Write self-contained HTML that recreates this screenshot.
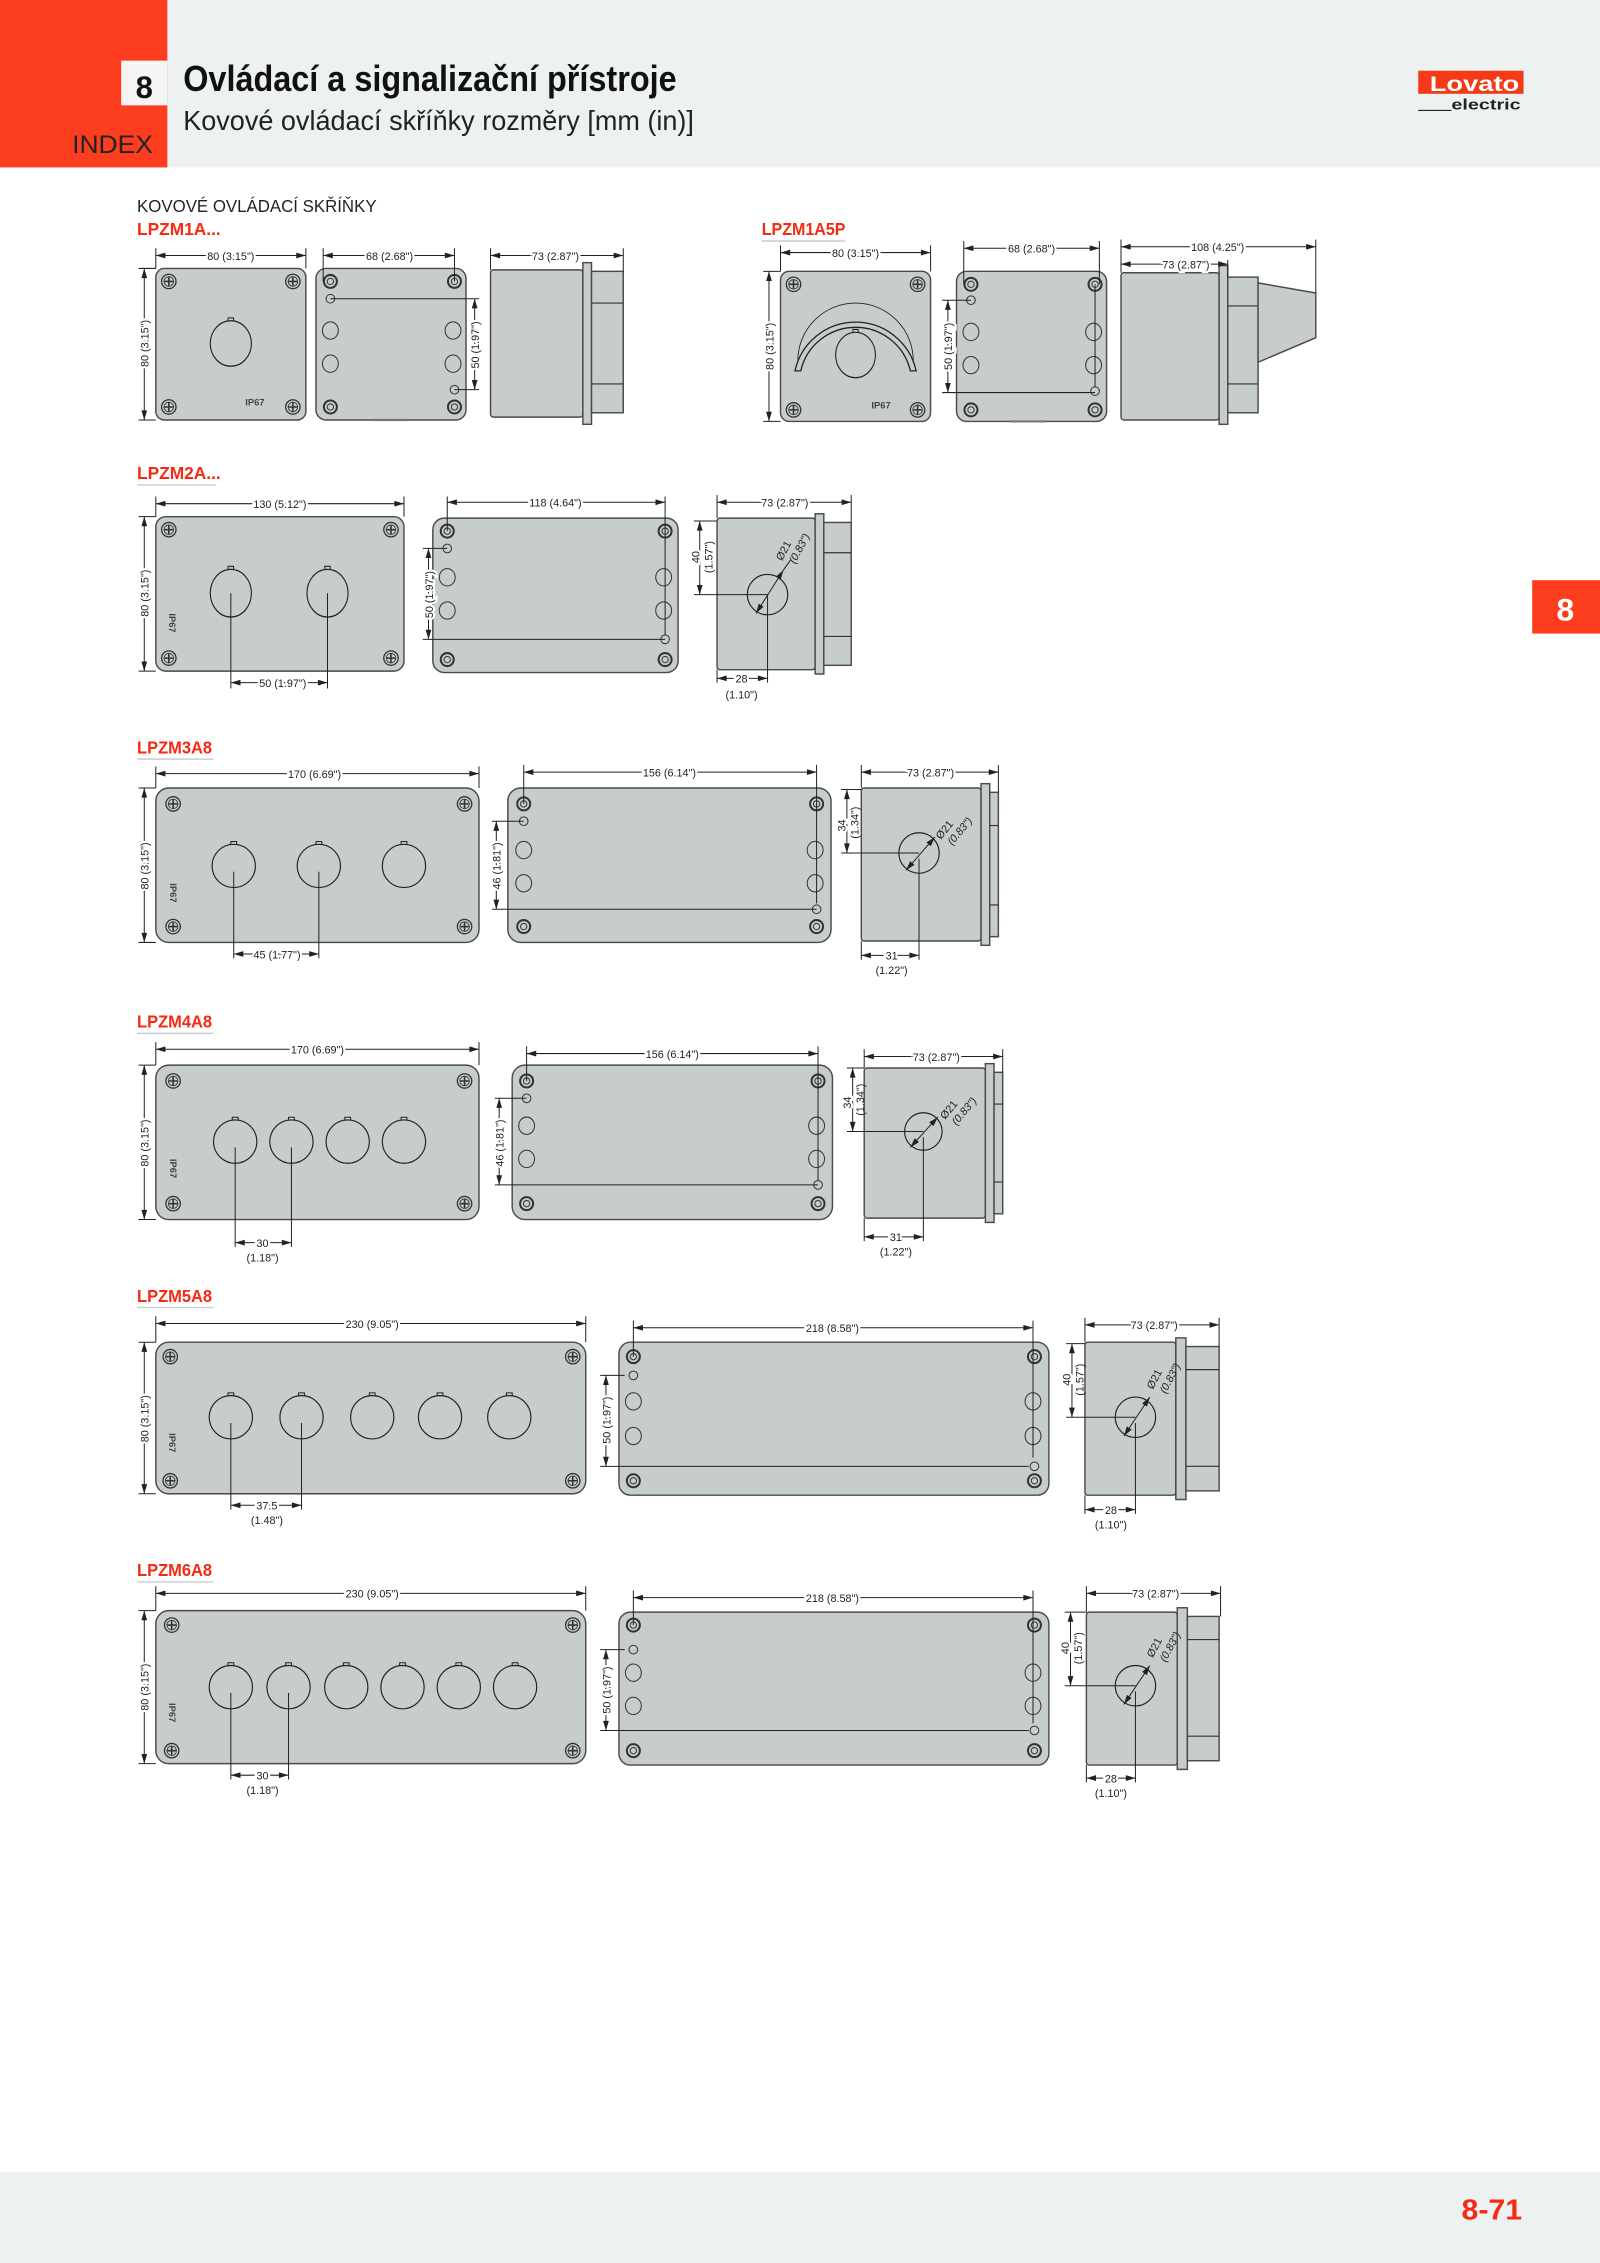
<!DOCTYPE html>
<html><head><meta charset="utf-8">
<style>
html,body{margin:0;padding:0;background:#fff;}
svg{display:block;}
.b{fill:#c6cdcb;stroke:#4a4a4a;stroke-width:1;}
.l{fill:none;stroke:#222;stroke-width:.7;}
.k{fill:none;stroke:#333;stroke-width:.8;}
.d{font-family:"Liberation Sans",sans-serif;font-size:7.5px;fill:#222;paint-order:stroke;stroke:#fff;stroke-width:3px;}
.dn{font-family:"Liberation Sans",sans-serif;font-size:7.5px;fill:#222;}
.red{font-family:"Liberation Sans",sans-serif;font-weight:bold;font-size:12px;fill:#f52a12;}
.ip{font-family:"Liberation Sans",sans-serif;font-weight:bold;font-size:6.5px;fill:#444;}
</style></head><body>
<svg width="1600" height="2263" viewBox="0 0 1109 1568" preserveAspectRatio="none" xmlns="http://www.w3.org/2000/svg">
<defs>
<marker id="a" viewBox="0 0 10 6" refX="10" refY="3" markerWidth="7" markerHeight="4" orient="auto-start-reverse" markerUnits="userSpaceOnUse"><path d="M0,0L10,3L0,6z" fill="#222"/></marker>
<g id="sc"><circle r="5" fill="#c6cdcb" stroke="#333" stroke-width=".9"/><circle r="3.3" fill="none" stroke="#333" stroke-width=".6"/><path d="M-3,0H3M0,-3V3" stroke="#333" stroke-width="1.1"/></g>
<g id="rg"><circle r="4.5" fill="none" stroke="#333" stroke-width="1.4"/><circle r="2.2" fill="none" stroke="#333" stroke-width=".7"/></g>
<g id="h"><circle r="15" fill="none" stroke="#222" stroke-width=".8"/><path d="M-2,-14.9v-2h4v2" fill="none" stroke="#222" stroke-width=".7"/></g>
<g id="sm"><circle r="3" fill="none" stroke="#333" stroke-width=".7"/></g>
<g id="hh"><ellipse rx="5.5" ry="6" fill="none" stroke="#333" stroke-width=".7"/></g>
</defs>

<!-- header -->
<rect x="0" y="0" width="1109" height="116" fill="#eef1f1"/>
<rect x="0" y="0" width="116" height="116" fill="#fc3d1e"/>
<rect x="84" y="42" width="32" height="31" fill="#f4f5f5"/>
<text x="100" y="68" text-anchor="middle" font-family="Liberation Sans,sans-serif" font-weight="bold" font-size="22" fill="#111" textLength="12" lengthAdjust="spacingAndGlyphs">8</text>
<text x="50" y="106" font-family="Liberation Sans,sans-serif" font-size="17" fill="#222" textLength="56" lengthAdjust="spacingAndGlyphs">INDEX</text>
<text x="127" y="63" font-family="Liberation Sans,sans-serif" font-weight="bold" font-size="25" fill="#111" textLength="342" lengthAdjust="spacingAndGlyphs">Ovládací a signalizační přístroje</text>
<text x="127" y="90" font-family="Liberation Sans,sans-serif" font-size="19" fill="#222" textLength="354" lengthAdjust="spacingAndGlyphs">Kovové ovládací skříňky rozměry [mm (in)]</text>
<rect x="983" y="49" width="73" height="16" fill="#f33b17"/>
<text x="991" y="63" font-family="Liberation Sans,sans-serif" font-weight="bold" font-size="15" fill="#fff" textLength="62" lengthAdjust="spacingAndGlyphs">Lovato</text>
<text x="1006" y="76" font-family="Liberation Sans,sans-serif" font-weight="bold" font-size="10" fill="#222" textLength="48" lengthAdjust="spacingAndGlyphs">electric</text>
<line x1="983" y1="76.5" x2="1006" y2="76.5" stroke="#222" stroke-width=".8"/>

<!-- right tab -->
<rect x="1062" y="402" width="47" height="37" fill="#fc3d1e"/>
<text x="1085" y="430" text-anchor="middle" font-family="Liberation Sans,sans-serif" font-weight="bold" font-size="22" fill="#fff">8</text>

<!-- footer -->
<rect x="0" y="1505" width="1109" height="63" fill="#eef1f1"/>
<text x="1013" y="1538" font-family="Liberation Sans,sans-serif" font-weight="bold" font-size="20" fill="#f52a12" textLength="42" lengthAdjust="spacingAndGlyphs">8-71</text>

<!-- titles -->
<text x="95" y="147" font-family="Liberation Sans,sans-serif" font-size="12" fill="#222" textLength="166" lengthAdjust="spacingAndGlyphs">KOVOVÉ OVLÁDACÍ SKŘÍŇKY</text>
<text x="95" y="163" class="red" textLength="58" lengthAdjust="spacingAndGlyphs">LPZM1A...</text>
<text x="528" y="163" class="red" textLength="58" lengthAdjust="spacingAndGlyphs">LPZM1A5P</text>
<line x1="528" y1="167" x2="586" y2="167" stroke="#ccc"/>
<text x="95" y="332" class="red" textLength="58" lengthAdjust="spacingAndGlyphs">LPZM2A...</text>
<line x1="95" y1="336" x2="150" y2="336" stroke="#ccc"/>
<text x="95" y="522" class="red" textLength="52" lengthAdjust="spacingAndGlyphs">LPZM3A8</text>
<line x1="95" y1="526" x2="148" y2="526" stroke="#ccc"/>
<text x="95" y="712" class="red" textLength="52" lengthAdjust="spacingAndGlyphs">LPZM4A8</text>
<line x1="95" y1="716" x2="148" y2="716" stroke="#ccc"/>
<text x="95" y="902" class="red" textLength="52" lengthAdjust="spacingAndGlyphs">LPZM5A8</text>
<line x1="95" y1="906" x2="148" y2="906" stroke="#ccc"/>
<text x="95" y="1092" class="red" textLength="52" lengthAdjust="spacingAndGlyphs">LPZM6A8</text>
<line x1="95" y1="1096" x2="148" y2="1096" stroke="#ccc"/>

<!-- ========== ROW 1 LPZM1A ========== -->
<rect class="b" x="108" y="186" width="104" height="105" rx="6"/>
<use href="#sc" x="117" y="195"/><use href="#sc" x="203" y="195"/><use href="#sc" x="117" y="282"/><use href="#sc" x="203" y="282"/>
<g transform="translate(160,238) scale(.95,1.05)"><use href="#h"/></g>
<text class="ip" x="170" y="281">IP67</text>
<line class="l" x1="108" y1="177" x2="212" y2="177" marker-start="url(#a)" marker-end="url(#a)"/>
<line class="l" x1="108" y1="172" x2="108" y2="186"/><line class="l" x1="212" y1="172" x2="212" y2="186"/>
<text class="d" x="160" y="180" text-anchor="middle">80 (3.15")</text>
<line class="l" x1="100" y1="186" x2="100" y2="291" marker-start="url(#a)" marker-end="url(#a)"/>
<line class="l" x1="96" y1="186" x2="108" y2="186"/><line class="l" x1="96" y1="291" x2="108" y2="291"/>
<text class="d" transform="translate(103,238) rotate(-90)" text-anchor="middle">80 (3.15")</text>

<rect class="b" x="219" y="186" width="104" height="105" rx="7"/>
<use href="#rg" x="229" y="195"/><use href="#rg" x="315" y="195"/><use href="#rg" x="229" y="282"/><use href="#rg" x="315" y="282"/>
<use href="#sm" x="229" y="207"/><use href="#sm" x="315" y="270"/>
<use href="#hh" x="229" y="229"/><use href="#hh" x="229" y="252"/><use href="#hh" x="314" y="229"/><use href="#hh" x="314" y="252"/>
<line class="l" x1="229" y1="207" x2="332" y2="207"/><line class="l" x1="315" y1="270" x2="332" y2="270"/>
<line class="l" x1="329" y1="207" x2="329" y2="270" marker-start="url(#a)" marker-end="url(#a)"/>
<text class="d" transform="translate(332,239) rotate(-90)" text-anchor="middle">50 (1.97")</text>
<line x1="258" y1="291" x2="282" y2="291" stroke="#777" stroke-width="1.5"/>
<line class="l" x1="224" y1="177" x2="315" y2="177" marker-start="url(#a)" marker-end="url(#a)"/>
<line class="l" x1="224" y1="172" x2="224" y2="195"/><line class="l" x1="315" y1="172" x2="315" y2="195"/>
<text class="d" x="270" y="180" text-anchor="middle">68 (2.68")</text>

<rect class="b" x="340" y="187" width="64" height="102" rx="2"/>
<rect class="b" x="404" y="182" width="6" height="112"/>
<rect class="b" x="410" y="188" width="22" height="98"/>
<line class="k" x1="410" y1="210" x2="432" y2="210"/><line class="k" x1="410" y1="266" x2="432" y2="266"/>
<line class="l" x1="340" y1="177" x2="432" y2="177" marker-start="url(#a)" marker-end="url(#a)"/>
<line class="l" x1="340" y1="172" x2="340" y2="187"/><line class="l" x1="432" y1="172" x2="432" y2="188"/>
<text class="d" x="385" y="180" text-anchor="middle">73 (2.87")</text>

<!-- LPZM1A5P -->
<rect class="b" x="541" y="188" width="104" height="104" rx="6"/>
<use href="#sc" x="550" y="197"/><use href="#sc" x="636" y="197"/><use href="#sc" x="550" y="284"/><use href="#sc" x="636" y="284"/>
<path d="M551,257 A43,43 0 0 1 635,257 L631,257 A39,39 0 0 0 555,257 Z" fill="#c6cdcb" stroke="#222" stroke-width=".9"/>
<path d="M553,250 A40,40 0 0 1 633,250" fill="none" stroke="#222" stroke-width=".6"/>
<g transform="translate(593,246) scale(.92,1.05)"><use href="#h"/></g>
<text class="ip" x="604" y="283">IP67</text>
<line class="l" x1="541" y1="175" x2="645" y2="175" marker-start="url(#a)" marker-end="url(#a)"/>
<line class="l" x1="541" y1="170" x2="541" y2="188"/><line class="l" x1="645" y1="170" x2="645" y2="188"/>
<text class="d" x="593" y="178" text-anchor="middle">80 (3.15")</text>
<line class="l" x1="533" y1="188" x2="533" y2="292" marker-start="url(#a)" marker-end="url(#a)"/>
<line class="l" x1="529" y1="188" x2="541" y2="188"/><line class="l" x1="529" y1="292" x2="541" y2="292"/>
<text class="d" transform="translate(536,240) rotate(-90)" text-anchor="middle">80 (3.15")</text>

<rect class="b" x="663" y="188" width="104" height="104" rx="7"/>
<use href="#rg" x="673" y="197"/><use href="#rg" x="759" y="197"/><use href="#rg" x="673" y="284"/><use href="#rg" x="759" y="284"/>
<use href="#sm" x="673" y="208"/><use href="#sm" x="759" y="271"/>
<use href="#hh" x="673" y="230"/><use href="#hh" x="673" y="253"/><use href="#hh" x="758" y="230"/><use href="#hh" x="758" y="253"/>
<line class="l" x1="653" y1="208" x2="673" y2="208"/><line class="l" x1="653" y1="272" x2="759" y2="272"/>
<line class="l" x1="657" y1="208" x2="657" y2="272" marker-start="url(#a)" marker-end="url(#a)"/>
<text class="d" transform="translate(660,240) rotate(-90)" text-anchor="middle">50 (1.97")</text>
<line class="l" x1="759" y1="197" x2="759" y2="268"/>
<line x1="700" y1="292" x2="725" y2="292" stroke="#777" stroke-width="1.5"/>
<line class="l" x1="668" y1="172" x2="762" y2="172" marker-start="url(#a)" marker-end="url(#a)"/>
<line class="l" x1="668" y1="167" x2="668" y2="197"/><line class="l" x1="762" y1="167" x2="762" y2="197"/>
<text class="d" x="715" y="175" text-anchor="middle">68 (2.68")</text>

<rect class="b" x="777" y="189" width="68" height="102" rx="2"/>
<rect class="b" x="845" y="184" width="6" height="110"/>
<rect class="b" x="851" y="192" width="21" height="94"/>
<line class="k" x1="851" y1="212" x2="872" y2="212"/><line class="k" x1="851" y1="266" x2="872" y2="266"/>
<polygon class="b" points="872,196 912,203 912,234 872,251"/>
<line class="l" x1="777" y1="171" x2="912" y2="171" marker-start="url(#a)" marker-end="url(#a)"/>
<line class="l" x1="777" y1="166" x2="777" y2="189"/><line class="l" x1="912" y1="166" x2="912" y2="203"/>
<text class="d" x="844" y="174" text-anchor="middle">108 (4.25")</text>
<line class="l" x1="777" y1="183" x2="851" y2="183" marker-start="url(#a)" marker-end="url(#a)"/>
<line class="l" x1="851" y1="180" x2="851" y2="192"/>
<text class="d" x="822" y="186" text-anchor="middle">73 (2.87")</text>

<!-- ========== ROW 2 LPZM2A ========== -->
<rect class="b" x="108" y="358" width="172" height="107" rx="7"/>
<use href="#sc" x="117" y="367"/><use href="#sc" x="271" y="367"/><use href="#sc" x="117" y="456"/><use href="#sc" x="271" y="456"/>
<g transform="translate(160,411) scale(.95,1.1)"><use href="#h"/></g>
<g transform="translate(227,411) scale(.95,1.1)"><use href="#h"/></g>
<text class="ip" transform="translate(117,425) rotate(90)">IP67</text>
<line class="l" x1="108" y1="349" x2="280" y2="349" marker-start="url(#a)" marker-end="url(#a)"/>
<line class="l" x1="108" y1="344" x2="108" y2="358"/><line class="l" x1="280" y1="344" x2="280" y2="358"/>
<text class="d" x="194" y="352" text-anchor="middle">130 (5.12")</text>
<line class="l" x1="100" y1="358" x2="100" y2="465" marker-start="url(#a)" marker-end="url(#a)"/>
<line class="l" x1="96" y1="358" x2="108" y2="358"/><line class="l" x1="96" y1="465" x2="108" y2="465"/>
<text class="d" transform="translate(103,411) rotate(-90)" text-anchor="middle">80 (3.15")</text>
<line class="l" x1="160" y1="411" x2="160" y2="477"/><line class="l" x1="227" y1="411" x2="227" y2="477"/>
<line class="l" x1="160" y1="473" x2="227" y2="473" marker-start="url(#a)" marker-end="url(#a)"/>
<text class="d" x="196" y="476" text-anchor="middle">50 (1.97")</text>

<rect class="b" x="300" y="359" width="170" height="107" rx="8"/>
<use href="#rg" x="310" y="368"/><use href="#rg" x="461" y="368"/><use href="#rg" x="310" y="457"/><use href="#rg" x="461" y="457"/>
<use href="#sm" x="310" y="380"/><use href="#sm" x="461" y="443"/>
<use href="#hh" x="310" y="400"/><use href="#hh" x="310" y="423"/><use href="#hh" x="460" y="400"/><use href="#hh" x="460" y="423"/>
<line class="l" x1="293" y1="380" x2="310" y2="380"/><line class="l" x1="293" y1="443" x2="461" y2="443"/>
<line class="l" x1="297" y1="380" x2="297" y2="443" marker-start="url(#a)" marker-end="url(#a)"/>
<text class="d" transform="translate(300,412) rotate(-90)" text-anchor="middle">50 (1.97")</text>
<line class="l" x1="461" y1="344" x2="461" y2="440"/><line class="l" x1="310" y1="344" x2="310" y2="368"/>
<line class="l" x1="310" y1="348" x2="461" y2="348" marker-start="url(#a)" marker-end="url(#a)"/>
<text class="d" x="385" y="351" text-anchor="middle">118 (4.64")</text>

<rect class="b" x="497" y="359" width="68" height="105" rx="2"/>
<rect class="b" x="565" y="356" width="6" height="111"/>
<rect class="b" x="571" y="362" width="19" height="99"/>
<line class="k" x1="571" y1="383" x2="590" y2="383"/><line class="k" x1="571" y1="441" x2="590" y2="441"/>
<circle cx="532" cy="412" r="14" fill="none" stroke="#222" stroke-width=".8"/>
<line class="l" x1="524" y1="425" x2="543" y2="395" marker-start="url(#a)" marker-end="url(#a)"/>
<line class="l" x1="543" y1="395" x2="548" y2="388"/>
<text class="dn" transform="translate(542,389) rotate(-62)">Ø21</text>
<text class="dn" transform="translate(551,391) rotate(-62)" font-style="italic">(0.83")</text>
<line class="l" x1="481" y1="361" x2="497" y2="361"/><line class="l" x1="481" y1="412" x2="532" y2="412"/>
<line class="l" x1="485" y1="361" x2="485" y2="412" marker-start="url(#a)" marker-end="url(#a)"/>
<text class="d" transform="translate(485,386) rotate(-90)" text-anchor="middle">40</text>
<text class="dn" transform="translate(494,386) rotate(-90)" text-anchor="middle">(1.57")</text>
<line class="l" x1="497" y1="348" x2="590" y2="348" marker-start="url(#a)" marker-end="url(#a)"/>
<line class="l" x1="497" y1="343" x2="497" y2="359"/><line class="l" x1="590" y1="343" x2="590" y2="362"/>
<text class="d" x="544" y="351" text-anchor="middle">73 (2.87")</text>
<line class="l" x1="532" y1="412" x2="532" y2="473"/><line class="l" x1="497" y1="464" x2="497" y2="473"/>
<line class="l" x1="497" y1="470" x2="532" y2="470" marker-start="url(#a)" marker-end="url(#a)"/>
<text class="d" x="514" y="473" text-anchor="middle">28</text>
<text class="dn" x="514" y="484" text-anchor="middle">(1.10")</text>

<!-- ========== ROW 3 LPZM3A8 ========== -->
<rect class="b" x="108" y="546" width="224" height="107" rx="9"/>
<use href="#sc" x="120" y="557"/><use href="#sc" x="322" y="557"/><use href="#sc" x="120" y="642"/><use href="#sc" x="322" y="642"/>
<use href="#h" x="162" y="600"/><use href="#h" x="221" y="600"/><use href="#h" x="280" y="600"/>
<text class="ip" transform="translate(118,612) rotate(90)">IP67</text>
<line class="l" x1="108" y1="536" x2="332" y2="536" marker-start="url(#a)" marker-end="url(#a)"/>
<line class="l" x1="108" y1="531" x2="108" y2="546"/><line class="l" x1="332" y1="531" x2="332" y2="546"/>
<text class="d" x="218" y="539" text-anchor="middle">170 (6.69")</text>
<line class="l" x1="100" y1="546" x2="100" y2="653" marker-start="url(#a)" marker-end="url(#a)"/>
<line class="l" x1="96" y1="546" x2="108" y2="546"/><line class="l" x1="96" y1="653" x2="108" y2="653"/>
<text class="d" transform="translate(103,600) rotate(-90)" text-anchor="middle">80 (3.15")</text>
<line class="l" x1="162" y1="604" x2="162" y2="664"/><line class="l" x1="221" y1="604" x2="221" y2="664"/>
<line class="l" x1="162" y1="661" x2="221" y2="661" marker-start="url(#a)" marker-end="url(#a)"/>
<text class="d" x="192" y="664" text-anchor="middle">45 (1.77")</text>

<rect class="b" x="352" y="546" width="224" height="107" rx="9"/>
<use href="#rg" x="363" y="557"/><use href="#rg" x="566" y="557"/><use href="#rg" x="363" y="642"/><use href="#rg" x="566" y="642"/>
<use href="#sm" x="363" y="569"/><use href="#sm" x="566" y="630"/>
<use href="#hh" x="363" y="589"/><use href="#hh" x="363" y="612"/><use href="#hh" x="565" y="589"/><use href="#hh" x="565" y="612"/>
<line class="l" x1="341" y1="569" x2="363" y2="569"/><line class="l" x1="341" y1="630" x2="566" y2="630"/>
<line class="l" x1="344" y1="569" x2="344" y2="630" marker-start="url(#a)" marker-end="url(#a)"/>
<text class="d" transform="translate(347,600) rotate(-90)" text-anchor="middle">46 (1.81")</text>
<line class="l" x1="363" y1="530" x2="363" y2="557"/><line class="l" x1="566" y1="530" x2="566" y2="626"/>
<line class="l" x1="363" y1="535" x2="566" y2="535" marker-start="url(#a)" marker-end="url(#a)"/>
<text class="d" x="464" y="538" text-anchor="middle">156 (6.14")</text>

<rect class="b" x="597" y="546" width="83" height="106" rx="2"/>
<rect class="b" x="680" y="543" width="6" height="112"/>
<rect class="b" x="686" y="549" width="6" height="100"/>
<line class="k" x1="686" y1="572" x2="692" y2="572"/><line class="k" x1="686" y1="627" x2="692" y2="627"/>
<circle cx="637" cy="591" r="14" fill="none" stroke="#222" stroke-width=".8"/>
<line class="l" x1="628" y1="603" x2="648" y2="580" marker-start="url(#a)" marker-end="url(#a)"/>
<text class="dn" transform="translate(652,582) rotate(-50)">Ø21</text>
<text class="dn" transform="translate(660,586) rotate(-50)" font-style="italic">(0.83")</text>
<line class="l" x1="583" y1="547" x2="597" y2="547"/><line class="l" x1="583" y1="591" x2="637" y2="591"/>
<line class="l" x1="587" y1="547" x2="587" y2="591" marker-start="url(#a)" marker-end="url(#a)"/>
<text class="d" transform="translate(586,572) rotate(-90)" text-anchor="middle">34</text>
<text class="dn" transform="translate(595,570) rotate(-90)" text-anchor="middle">(1.34")</text>
<line class="l" x1="597" y1="535" x2="692" y2="535" marker-start="url(#a)" marker-end="url(#a)"/>
<line class="l" x1="597" y1="530" x2="597" y2="546"/><line class="l" x1="692" y1="530" x2="692" y2="549"/>
<text class="d" x="645" y="538" text-anchor="middle">73 (2.87")</text>
<line class="l" x1="637" y1="595" x2="637" y2="665"/><line class="l" x1="597" y1="652" x2="597" y2="665"/>
<line class="l" x1="597" y1="662" x2="637" y2="662" marker-start="url(#a)" marker-end="url(#a)"/>
<text class="d" x="618" y="665" text-anchor="middle">31</text>
<text class="dn" x="618" y="675" text-anchor="middle">(1.22")</text>

<!-- ========== ROW 4 LPZM4A8 ========== -->
<rect class="b" x="108" y="738" width="224" height="107" rx="9"/>
<use href="#sc" x="120" y="749"/><use href="#sc" x="322" y="749"/><use href="#sc" x="120" y="834"/><use href="#sc" x="322" y="834"/>
<use href="#h" x="163" y="791"/><use href="#h" x="202" y="791"/><use href="#h" x="241" y="791"/><use href="#h" x="280" y="791"/>
<text class="ip" transform="translate(118,803) rotate(90)">IP67</text>
<line class="l" x1="108" y1="727" x2="332" y2="727" marker-start="url(#a)" marker-end="url(#a)"/>
<line class="l" x1="108" y1="722" x2="108" y2="738"/><line class="l" x1="332" y1="722" x2="332" y2="738"/>
<text class="d" x="220" y="730" text-anchor="middle">170 (6.69")</text>
<line class="l" x1="100" y1="738" x2="100" y2="845" marker-start="url(#a)" marker-end="url(#a)"/>
<line class="l" x1="96" y1="738" x2="108" y2="738"/><line class="l" x1="96" y1="845" x2="108" y2="845"/>
<text class="d" transform="translate(103,792) rotate(-90)" text-anchor="middle">80 (3.15")</text>
<line class="l" x1="163" y1="795" x2="163" y2="864"/><line class="l" x1="202" y1="795" x2="202" y2="864"/>
<line class="l" x1="163" y1="861" x2="202" y2="861" marker-start="url(#a)" marker-end="url(#a)"/>
<text class="d" x="182" y="864" text-anchor="middle">30</text>
<text class="dn" x="182" y="874" text-anchor="middle">(1.18")</text>

<rect class="b" x="355" y="738" width="222" height="107" rx="9"/>
<use href="#rg" x="365" y="749"/><use href="#rg" x="567" y="749"/><use href="#rg" x="365" y="834"/><use href="#rg" x="567" y="834"/>
<use href="#sm" x="365" y="761"/><use href="#sm" x="567" y="821"/>
<use href="#hh" x="365" y="780"/><use href="#hh" x="365" y="803"/><use href="#hh" x="566" y="780"/><use href="#hh" x="566" y="803"/>
<line class="l" x1="343" y1="761" x2="365" y2="761"/><line class="l" x1="343" y1="821" x2="567" y2="821"/>
<line class="l" x1="346" y1="761" x2="346" y2="821" marker-start="url(#a)" marker-end="url(#a)"/>
<text class="d" transform="translate(349,792) rotate(-90)" text-anchor="middle">46 (1.81")</text>
<line class="l" x1="365" y1="725" x2="365" y2="749"/><line class="l" x1="567" y1="725" x2="567" y2="818"/>
<line class="l" x1="365" y1="730" x2="567" y2="730" marker-start="url(#a)" marker-end="url(#a)"/>
<text class="d" x="466" y="733" text-anchor="middle">156 (6.14")</text>

<rect class="b" x="599" y="740" width="84" height="104" rx="2"/>
<rect class="b" x="683" y="737" width="6" height="110"/>
<rect class="b" x="689" y="743" width="6" height="98"/>
<line class="k" x1="689" y1="765" x2="695" y2="765"/><line class="k" x1="689" y1="819" x2="695" y2="819"/>
<circle cx="640" cy="784" r="13" fill="none" stroke="#222" stroke-width=".8"/>
<line class="l" x1="631" y1="795" x2="650" y2="774" marker-start="url(#a)" marker-end="url(#a)"/>
<text class="dn" transform="translate(655,776) rotate(-50)">Ø21</text>
<text class="dn" transform="translate(663,780) rotate(-50)" font-style="italic">(0.83")</text>
<line class="l" x1="587" y1="740" x2="599" y2="740"/><line class="l" x1="587" y1="784" x2="640" y2="784"/>
<line class="l" x1="591" y1="740" x2="591" y2="784" marker-start="url(#a)" marker-end="url(#a)"/>
<text class="d" transform="translate(590,764) rotate(-90)" text-anchor="middle">34</text>
<text class="dn" transform="translate(599,762) rotate(-90)" text-anchor="middle">(1.34")</text>
<line class="l" x1="599" y1="732" x2="695" y2="732" marker-start="url(#a)" marker-end="url(#a)"/>
<line class="l" x1="599" y1="727" x2="599" y2="740"/><line class="l" x1="695" y1="727" x2="695" y2="743"/>
<text class="d" x="649" y="735" text-anchor="middle">73 (2.87")</text>
<line class="l" x1="640" y1="788" x2="640" y2="860"/><line class="l" x1="599" y1="844" x2="599" y2="860"/>
<line class="l" x1="599" y1="857" x2="640" y2="857" marker-start="url(#a)" marker-end="url(#a)"/>
<text class="d" x="621" y="860" text-anchor="middle">31</text>
<text class="dn" x="621" y="870" text-anchor="middle">(1.22")</text>

<!-- ========== ROW 5 LPZM5A8 ========== -->
<rect class="b" x="108" y="930" width="298" height="105" rx="9"/>
<use href="#sc" x="118" y="940"/><use href="#sc" x="397" y="940"/><use href="#sc" x="118" y="1026"/><use href="#sc" x="397" y="1026"/>
<use href="#h" x="160" y="982"/><use href="#h" x="209" y="982"/><use href="#h" x="258" y="982"/><use href="#h" x="305" y="982"/><use href="#h" x="353" y="982"/>
<text class="ip" transform="translate(117,993) rotate(90)">IP67</text>
<line class="l" x1="108" y1="917" x2="406" y2="917" marker-start="url(#a)" marker-end="url(#a)"/>
<line class="l" x1="108" y1="912" x2="108" y2="930"/><line class="l" x1="406" y1="912" x2="406" y2="930"/>
<text class="d" x="258" y="920" text-anchor="middle">230 (9.05")</text>
<line class="l" x1="100" y1="930" x2="100" y2="1035" marker-start="url(#a)" marker-end="url(#a)"/>
<line class="l" x1="96" y1="930" x2="108" y2="930"/><line class="l" x1="96" y1="1035" x2="108" y2="1035"/>
<text class="d" transform="translate(103,983) rotate(-90)" text-anchor="middle">80 (3.15")</text>
<line class="l" x1="160" y1="986" x2="160" y2="1046"/><line class="l" x1="209" y1="986" x2="209" y2="1046"/>
<line class="l" x1="160" y1="1043" x2="209" y2="1043" marker-start="url(#a)" marker-end="url(#a)"/>
<text class="d" x="185" y="1046" text-anchor="middle">37.5</text>
<text class="dn" x="185" y="1056" text-anchor="middle">(1.48")</text>

<rect class="b" x="429" y="930" width="298" height="106" rx="8"/>
<use href="#rg" x="439" y="940"/><use href="#rg" x="717" y="940"/><use href="#rg" x="439" y="1026"/><use href="#rg" x="717" y="1026"/>
<use href="#sm" x="439" y="953"/><use href="#sm" x="717" y="1016"/>
<use href="#hh" x="439" y="971"/><use href="#hh" x="439" y="995"/><use href="#hh" x="716" y="971"/><use href="#hh" x="716" y="995"/>
<line class="l" x1="416" y1="953" x2="433" y2="953"/><line class="l" x1="416" y1="1016" x2="713" y2="1016"/>
<line class="l" x1="420" y1="953" x2="420" y2="1016" marker-start="url(#a)" marker-end="url(#a)"/>
<text class="d" transform="translate(423,984) rotate(-90)" text-anchor="middle">50 (1.97")</text>
<line class="l" x1="439" y1="915" x2="439" y2="940"/><line class="l" x1="716" y1="915" x2="716" y2="1010"/>
<line class="l" x1="439" y1="920" x2="716" y2="920" marker-start="url(#a)" marker-end="url(#a)"/>
<text class="d" x="577" y="923" text-anchor="middle">218 (8.58")</text>

<rect class="b" x="752" y="930" width="63" height="106" rx="2"/>
<rect class="b" x="815" y="927" width="7" height="112"/>
<rect class="b" x="822" y="933" width="23" height="100"/>
<line class="k" x1="822" y1="949" x2="845" y2="949"/><line class="k" x1="822" y1="1016" x2="845" y2="1016"/>
<circle cx="787" cy="982" r="14" fill="none" stroke="#222" stroke-width=".8"/>
<line class="l" x1="779" y1="995" x2="797" y2="968" marker-start="url(#a)" marker-end="url(#a)"/>
<text class="dn" transform="translate(799,963) rotate(-62)">Ø21</text>
<text class="dn" transform="translate(808,966) rotate(-62)" font-style="italic">(0.83")</text>
<line class="l" x1="739" y1="931" x2="752" y2="931"/><line class="l" x1="739" y1="982" x2="787" y2="982"/>
<line class="l" x1="743" y1="931" x2="743" y2="982" marker-start="url(#a)" marker-end="url(#a)"/>
<text class="d" transform="translate(742,956) rotate(-90)" text-anchor="middle">40</text>
<text class="dn" transform="translate(751,956) rotate(-90)" text-anchor="middle">(1.57")</text>
<line class="l" x1="752" y1="918" x2="845" y2="918" marker-start="url(#a)" marker-end="url(#a)"/>
<line class="l" x1="752" y1="913" x2="752" y2="930"/><line class="l" x1="845" y1="913" x2="845" y2="933"/>
<text class="d" x="800" y="921" text-anchor="middle">73 (2.87")</text>
<line class="l" x1="787" y1="986" x2="787" y2="1049"/><line class="l" x1="752" y1="1036" x2="752" y2="1049"/>
<line class="l" x1="752" y1="1046" x2="787" y2="1046" marker-start="url(#a)" marker-end="url(#a)"/>
<text class="d" x="770" y="1049" text-anchor="middle">28</text>
<text class="dn" x="770" y="1059" text-anchor="middle">(1.10")</text>

<!-- ========== ROW 6 LPZM6A8 ========== -->
<rect class="b" x="108" y="1116" width="298" height="106" rx="9"/>
<use href="#sc" x="119" y="1126"/><use href="#sc" x="397" y="1126"/><use href="#sc" x="119" y="1213"/><use href="#sc" x="397" y="1213"/>
<use href="#h" x="160" y="1169"/><use href="#h" x="200" y="1169"/><use href="#h" x="240" y="1169"/><use href="#h" x="279" y="1169"/><use href="#h" x="318" y="1169"/><use href="#h" x="357" y="1169"/>
<text class="ip" transform="translate(117,1180) rotate(90)">IP67</text>
<line class="l" x1="108" y1="1104" x2="406" y2="1104" marker-start="url(#a)" marker-end="url(#a)"/>
<line class="l" x1="108" y1="1099" x2="108" y2="1116"/><line class="l" x1="406" y1="1099" x2="406" y2="1116"/>
<text class="d" x="258" y="1107" text-anchor="middle">230 (9.05")</text>
<line class="l" x1="100" y1="1116" x2="100" y2="1222" marker-start="url(#a)" marker-end="url(#a)"/>
<line class="l" x1="96" y1="1116" x2="108" y2="1116"/><line class="l" x1="96" y1="1222" x2="108" y2="1222"/>
<text class="d" transform="translate(103,1169) rotate(-90)" text-anchor="middle">80 (3.15")</text>
<line class="l" x1="160" y1="1173" x2="160" y2="1233"/><line class="l" x1="200" y1="1173" x2="200" y2="1233"/>
<line class="l" x1="160" y1="1230" x2="200" y2="1230" marker-start="url(#a)" marker-end="url(#a)"/>
<text class="d" x="182" y="1233" text-anchor="middle">30</text>
<text class="dn" x="182" y="1243" text-anchor="middle">(1.18")</text>

<rect class="b" x="429" y="1117" width="298" height="106" rx="8"/>
<use href="#rg" x="439" y="1126"/><use href="#rg" x="717" y="1126"/><use href="#rg" x="439" y="1213"/><use href="#rg" x="717" y="1213"/>
<use href="#sm" x="439" y="1143"/><use href="#sm" x="717" y="1199"/>
<use href="#hh" x="439" y="1159"/><use href="#hh" x="439" y="1182"/><use href="#hh" x="716" y="1159"/><use href="#hh" x="716" y="1182"/>
<line class="l" x1="416" y1="1143" x2="433" y2="1143"/><line class="l" x1="416" y1="1199" x2="713" y2="1199"/>
<line class="l" x1="420" y1="1143" x2="420" y2="1199" marker-start="url(#a)" marker-end="url(#a)"/>
<text class="d" transform="translate(423,1171) rotate(-90)" text-anchor="middle">50 (1.97")</text>
<line class="l" x1="439" y1="1102" x2="439" y2="1126"/><line class="l" x1="716" y1="1102" x2="716" y2="1194"/>
<line class="l" x1="439" y1="1107" x2="716" y2="1107" marker-start="url(#a)" marker-end="url(#a)"/>
<text class="d" x="577" y="1110" text-anchor="middle">218 (8.58")</text>

<rect class="b" x="753" y="1117" width="63" height="106" rx="2"/>
<rect class="b" x="816" y="1114" width="7" height="112"/>
<rect class="b" x="823" y="1120" width="22" height="100"/>
<line class="k" x1="823" y1="1136" x2="845" y2="1136"/><line class="k" x1="823" y1="1203" x2="845" y2="1203"/>
<circle cx="787" cy="1168" r="14" fill="none" stroke="#222" stroke-width=".8"/>
<line class="l" x1="779" y1="1181" x2="797" y2="1154" marker-start="url(#a)" marker-end="url(#a)"/>
<text class="dn" transform="translate(799,1149) rotate(-62)">Ø21</text>
<text class="dn" transform="translate(808,1152) rotate(-62)" font-style="italic">(0.83")</text>
<line class="l" x1="738" y1="1117" x2="753" y2="1117"/><line class="l" x1="738" y1="1168" x2="787" y2="1168"/>
<line class="l" x1="742" y1="1117" x2="742" y2="1168" marker-start="url(#a)" marker-end="url(#a)"/>
<text class="d" transform="translate(741,1142) rotate(-90)" text-anchor="middle">40</text>
<text class="dn" transform="translate(750,1142) rotate(-90)" text-anchor="middle">(1.57")</text>
<line class="l" x1="753" y1="1104" x2="846" y2="1104" marker-start="url(#a)" marker-end="url(#a)"/>
<line class="l" x1="753" y1="1099" x2="753" y2="1117"/><line class="l" x1="846" y1="1099" x2="846" y2="1120"/>
<text class="d" x="801" y="1107" text-anchor="middle">73 (2.87")</text>
<line class="l" x1="787" y1="1172" x2="787" y2="1235"/><line class="l" x1="753" y1="1223" x2="753" y2="1235"/>
<line class="l" x1="753" y1="1232" x2="787" y2="1232" marker-start="url(#a)" marker-end="url(#a)"/>
<text class="d" x="770" y="1235" text-anchor="middle">28</text>
<text class="dn" x="770" y="1245" text-anchor="middle">(1.10")</text>
</svg>
</body></html>
